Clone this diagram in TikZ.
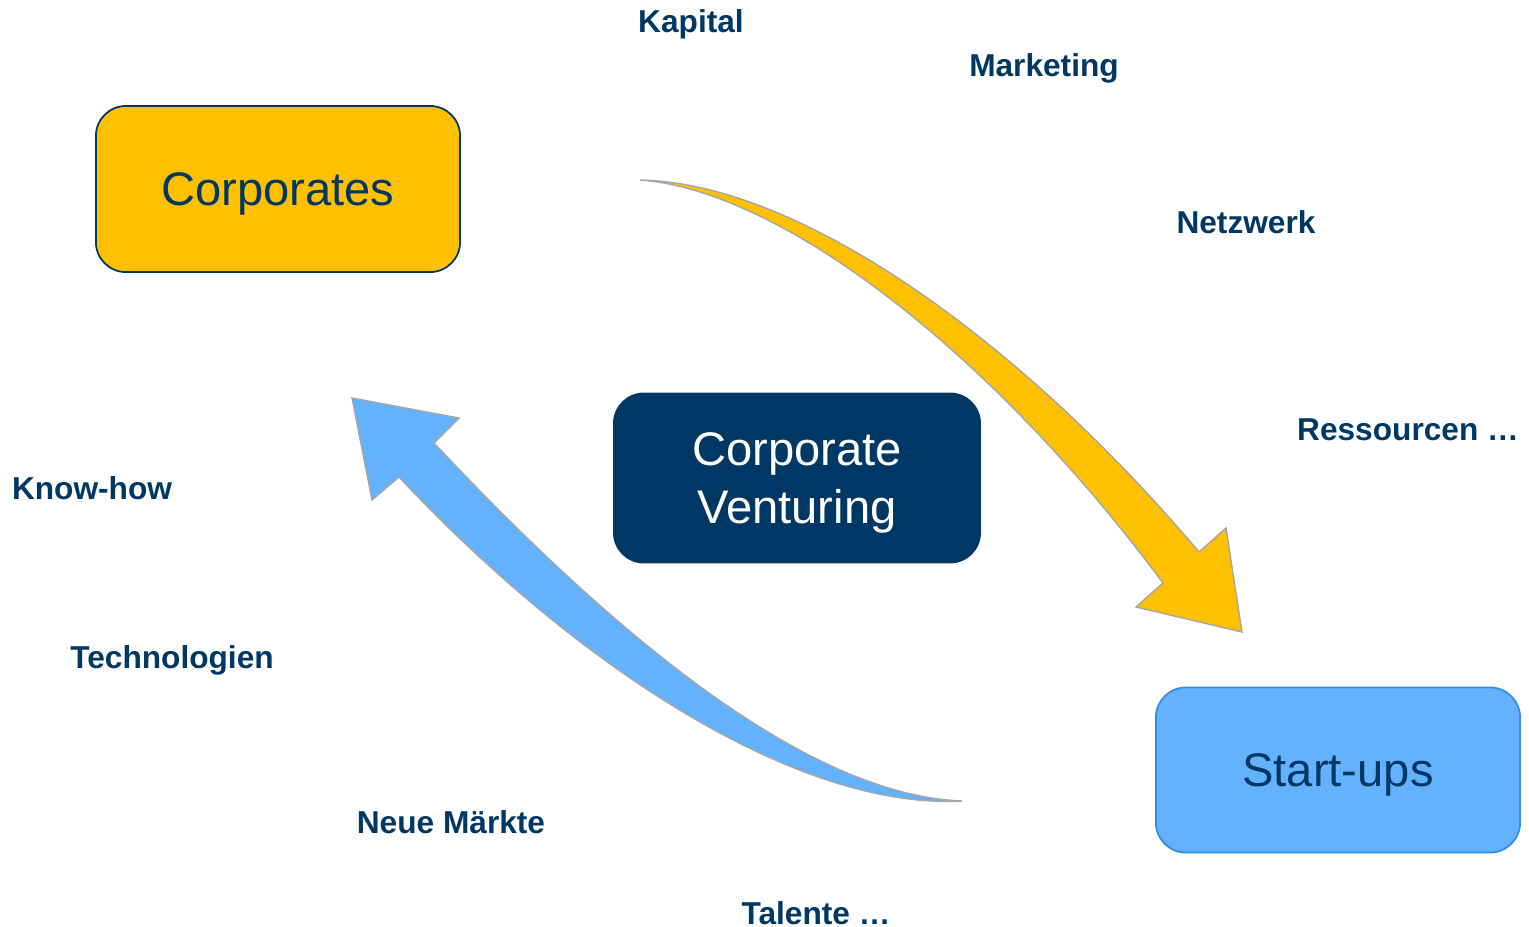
\documentclass[tikz,border=0pt]{standalone}
\usepackage{fontspec}
\setmainfont{Liberation Sans}
\usepackage{tikz}
\definecolor{navy}{RGB}{0,56,101}
\definecolor{gold}{RGB}{255,192,0}
\definecolor{sky}{RGB}{99,178,255}
\definecolor{skyline}{RGB}{50,140,230}
\tikzset{k/.style={font=\fontsize{9}{9}\selectfont\bfseries,text=navy,inner sep=0pt}}
\tikzset{bx/.style={rectangle,rounded corners=0.3cm,minimum width=3.64cm,minimum height=1.66cm,line width=0.5pt,align=center,text depth=0pt,font=\fontsize{13.4}{16.4}\selectfont}}

\begin{document}
\begin{tikzpicture}[x=0.01cm,y=-0.01cm]
        \useasboundingbox (0,0) rectangle (1529,926);
        % the two curved block arrows
        \filldraw[draw=gray!70,fill=gold,line width=0.4pt](640,180) .. controls (800,183) and (1020,340) .. (1199,552)
          --(1226,528)--(1242,632)--(1136,607)--(1163,583) .. controls (990,350) and (780,190) .. (640,180)--cycle;
        \filldraw[draw=gray!70,fill=sky,line width=0.4pt](962,801) .. controls (800,795) and (600,620) .. (434,443)
          --(459,418)--(352,398)--(372,500)--(399,477) .. controls (580,670) and (800,810) .. (962,801)--cycle;
        % boxes
        \node[bx,draw=navy,fill=gold,text=navy] (C) at (278,189) {Corporates};
        \node[bx,draw=navy,fill=navy,text=white,minimum width=3.66cm,minimum height=1.69cm] (V) at (797,478) {Corporate\\Venturing};
        \node[bx,draw=skyline,fill=sky,text=navy,minimum height=1.65cm] (S) at (1338,770) {Start-ups};
        % what flows each way
        \begin{scope}
          \node[k] (K) at (691,24) {Kapital};
          \node[k] (M) at (1044,68) {Marketing};
          \node[k] (N) at (1246,222) {Netzwerk};
          \node[k] (R) at (1408,430) {Ressourcen …};
          \node[k] (H) at (92,488) {Know-how};
          \node[k] (T) at (172,660) {Technologien};
          \node[k] (NM) at (451,822) {Neue Märkte};
          \node[k] (TA) at (816,913) {Talente …};
        \end{scope}
      \end{tikzpicture}
\end{document}
